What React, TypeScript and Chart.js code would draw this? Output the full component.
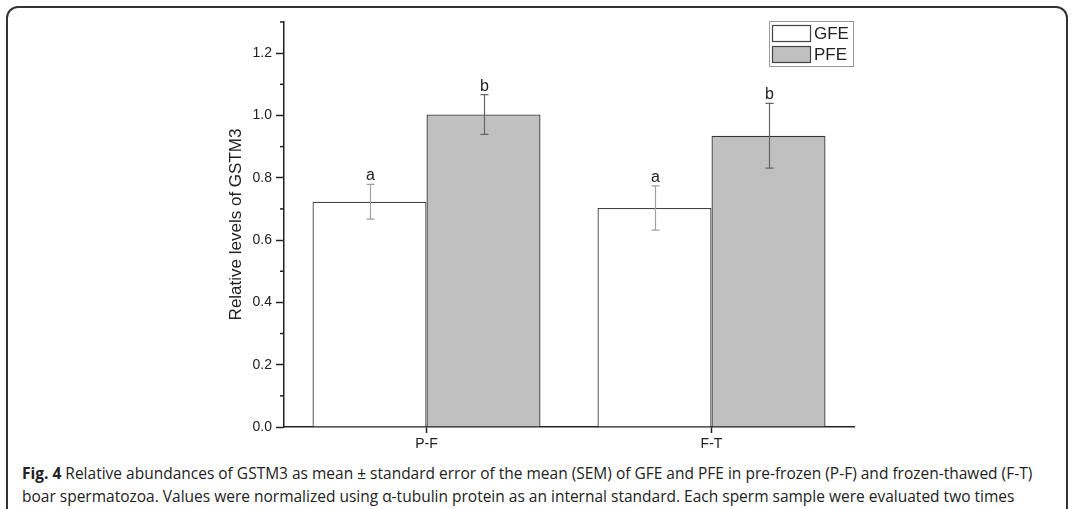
import React, { useEffect, useRef } from 'react';
import { Chart, registerables } from 'chart.js';

Chart.register(...registerables);

const categories = ['P-F', 'F-T'];
const seriesNames = ['GFE', 'PFE'];
const gfeMeans = [0.723, 0.703];
const gfeSem = [0.056, 0.071];
const pfeMeans = [1.003, 0.935];
const pfeSem = [0.064, 0.104];
const gfeLetters = ['a', 'a'];
const pfeLetters = ['b', 'b'];
const yMin = 0;
const yMax = 1.3;
const yStep = 0.1;
const yAxisTitle = 'Relative levels of GSTM3';

const AXIS_COLOR = '#222';
const FONT = '"Liberation Sans", Arial, Helvetica, sans-serif';

const isMajor = (v: number) => Math.round(v * 10) % 2 === 0;

const errorBarPlugin = {
  id: 'errorBars',
  afterDatasetsDraw(chart: any) {
    const ctx = chart.ctx;
    const y = chart.scales.y;
    chart.data.datasets.forEach((ds: any, di: number) => {
      const meta = chart.getDatasetMeta(di);
      meta.data.forEach((bar: any, i: number) => {
        const v = ds.data[i];
        const e = ds.errors[i];
        const yTop = y.getPixelForValue(v + e);
        const yBot = y.getPixelForValue(v - e);
        const x = Math.round(bar.x) + 0.5;
        ctx.save();
        ctx.strokeStyle = ds.errorColor;
        ctx.lineWidth = 1.2;
        ctx.beginPath();
        ctx.moveTo(x, yTop);
        ctx.lineTo(x, yBot);
        ctx.moveTo(x - 4, yTop);
        ctx.lineTo(x + 4, yTop);
        ctx.moveTo(x - 4, yBot);
        ctx.lineTo(x + 4, yBot);
        ctx.stroke();
        ctx.fillStyle = '#222';
        ctx.font = `16px ${FONT}`;
        ctx.textAlign = 'center';
        ctx.textBaseline = 'alphabetic';
        ctx.fillText(ds.letters[i], x, yTop - 4);
        ctx.restore();
      });
    });
  },
};

const minorTickPlugin = {
  id: 'minorTicks',
  afterDraw(chart: any) {
    const ctx = chart.ctx;
    const y = chart.scales.y;
    const left = chart.chartArea.left;
    ctx.save();
    ctx.strokeStyle = AXIS_COLOR;
    ctx.lineWidth = 1.5;
    y.ticks.forEach((t: any) => {
      if (isMajor(t.value)) return;
      const py = y.getPixelForValue(t.value);
      ctx.beginPath();
      ctx.moveTo(left - 4, py);
      ctx.lineTo(left, py);
      ctx.stroke();
    });
    ctx.restore();
  },
};

const legendPlugin = {
  id: 'boxLegend',
  afterDraw(chart: any) {
    const ctx = chart.ctx;
    const area = chart.chartArea;
    const boxW = 84;
    const boxH = 45;
    const bx = area.right - boxW - 1;
    const by = area.top - 1;
    ctx.save();
    ctx.fillStyle = '#fff';
    ctx.fillRect(bx, by, boxW, boxH);
    ctx.strokeStyle = '#999';
    ctx.lineWidth = 1;
    ctx.strokeRect(bx + 0.5, by + 0.5, boxW, boxH);
    chart.data.datasets.forEach((ds: any, i: number) => {
      const sy = by + 4 + i * 21;
      ctx.fillStyle = ds.backgroundColor;
      ctx.fillRect(bx + 3, sy, 38, 16);
      ctx.strokeStyle = '#444';
      ctx.lineWidth = 1.2;
      ctx.strokeRect(bx + 3.5, sy + 0.5, 38, 16);
      ctx.fillStyle = '#222';
      ctx.font = `17px ${FONT}`;
      ctx.textAlign = 'left';
      ctx.textBaseline = 'middle';
      ctx.fillText(ds.label, bx + 45, sy + 9);
    });
    ctx.restore();
  },
};

function BarChart() {
  const ref = useRef<HTMLCanvasElement | null>(null);
  useEffect(() => {
    if (!ref.current) return;
    const chart = new Chart(ref.current, {
      type: 'bar',
      data: {
        labels: categories,
        datasets: [
          {
            label: seriesNames[0],
            data: gfeMeans,
            errors: gfeSem,
            letters: gfeLetters,
            errorColor: '#a0a0a0',
            backgroundColor: '#ffffff',
            borderColor: '#444',
            borderWidth: 1.3,
            categoryPercentage: 0.8,
            barPercentage: 1.0,
          } as any,
          {
            label: seriesNames[1],
            data: pfeMeans,
            errors: pfeSem,
            letters: pfeLetters,
            errorColor: '#666',
            backgroundColor: '#c0c0c0',
            borderColor: '#333',
            borderWidth: 1.3,
            categoryPercentage: 0.8,
            barPercentage: 1.0,
          } as any,
        ],
      },
      options: {
        animation: false,
        responsive: false,
        devicePixelRatio: 1,
        layout: { padding: { left: 200, top: 22, right: 219, bottom: 0 } },
        plugins: { legend: { display: false }, tooltip: { enabled: false } },
        scales: {
          x: {
            type: 'category',
            afterFit: (s: any) => {
              s.height = 33;
            },
            grid: {
              display: true,
              drawOnChartArea: false,
              drawTicks: true,
              tickLength: 6,
              offset: false,
              tickColor: AXIS_COLOR,
              tickWidth: 1.5,
            },
            border: { display: true, color: AXIS_COLOR, width: 1.5 },
            ticks: { color: '#222', font: { family: FONT, size: 14 }, padding: 3 },
          },
          y: {
            min: yMin,
            max: yMax,
            afterFit: (s: any) => {
              s.width = 84;
            },
            ticks: {
              stepSize: yStep,
              color: '#222',
              font: { family: FONT, size: 14 },
              padding: 4,
              callback: (v: any) => (isMajor(Number(v)) ? Number(v).toFixed(1) : ''),
            },
            grid: {
              display: true,
              drawOnChartArea: false,
              drawTicks: true,
              tickLength: 8,
              tickWidth: 1.5,
              tickColor: (c: any) => (c.tick && isMajor(c.tick.value) ? AXIS_COLOR : 'rgba(0,0,0,0)'),
            },
            border: { display: true, color: AXIS_COLOR, width: 1.5 },
            title: {
              display: true,
              text: yAxisTitle,
              color: '#222',
              font: { family: FONT, size: 17 },
              padding: { top: 26, bottom: 0 },
            },
          },
        },
      },
      plugins: [errorBarPlugin, minorTickPlugin, legendPlugin],
    } as any);
    return () => chart.destroy();
  }, []);
  return <canvas ref={ref} width={1073} height={460} style={{ position: 'absolute', left: 0, top: 0 }} />;
}

export default function App() {
  return (
    <div style={{ position: 'absolute', left: 0, top: 0, width: 1073, height: 509, overflow: 'hidden', background: '#fff' }}>
      <div
        style={{
          position: 'absolute',
          left: 6,
          top: 6,
          width: 1062,
          height: 600,
          border: '2px solid #333',
          borderRadius: 12,
          boxSizing: 'border-box',
        }}
      />
      <BarChart />
      <div
        style={{
          position: 'absolute',
          left: 22,
          top: 462,
          fontFamily: '"Open Sans", "Noto Sans", sans-serif',
          fontSize: 15.5,
          lineHeight: '23px',
          color: '#222',
          whiteSpace: 'nowrap',
        }}
      >
        <span style={{ fontWeight: 700 }}>Fig. 4</span> Relative abundances of GSTM3 as mean ± standard error of the mean (SEM) of GFE and PFE in pre-frozen (P-F) and frozen-thawed (F-T)
        <br />
        boar spermatozoa. Values were normalized using α-tubulin protein as an internal standard. Each sperm sample were evaluated two times
      </div>
    </div>
  );
}
